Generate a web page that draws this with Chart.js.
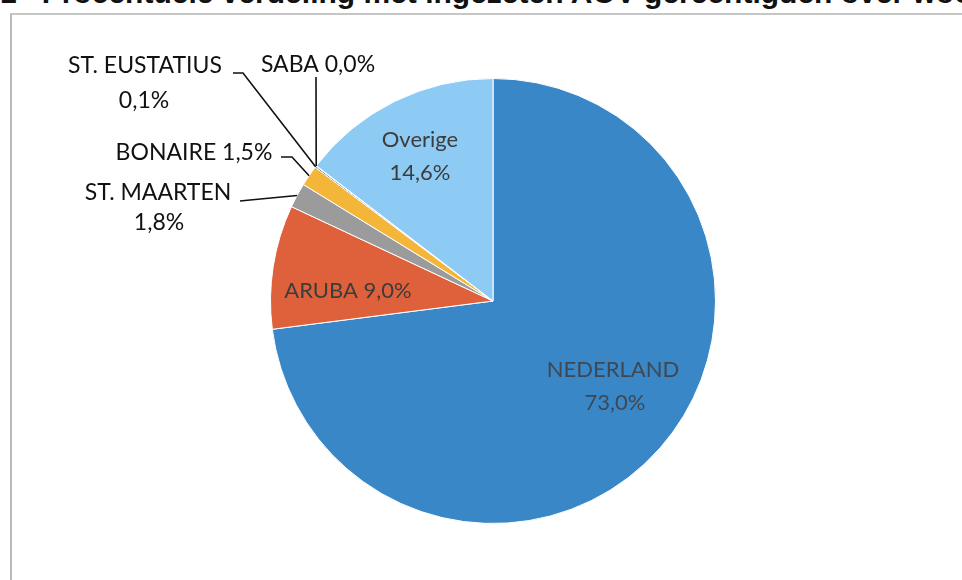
<!DOCTYPE html>
<html>
<head>
<meta charset="utf-8">
<script src="https://cdn.jsdelivr.net/npm/chart.js@4/dist/chart.umd.min.js"></script>
<style>
  html, body { margin: 0; padding: 0; background: #fff; }
  #wrap { position: relative; width: 962px; height: 580px; overflow: hidden; }
  #title { position: absolute; left: 0; top: -24px; white-space: nowrap;
    font: bold 30px "Liberation Sans", Arial, sans-serif; color: #111; }
  #frame { position: absolute; left: 10px; top: 13px; right: -5px; bottom: -5px;
    border-left: 2px solid #b9b9b9; border-top: 2px solid #c6c6c6; }
  #chart { position: absolute; left: 0; top: 0; }
</style>
</head>
<body>
<div id="wrap">
  <div id="title">1&nbsp;&nbsp;&nbsp;Procentuele verdeling met ingezeten AOV-gerechtigden over woonland</div>
  <div id="frame"></div>
  <canvas id="chart" width="962" height="580"></canvas>
</div>
<script>
// data, clockwise from 12 o'clock
let landen = ['NEDERLAND', 'ARUBA', 'ST. MAARTEN', 'BONAIRE', 'ST. EUSTATIUS', 'SABA', 'Overige']
let percentages = [73.0, 9.0, 1.8, 1.5, 0.1, 0.04, 14.6]
let percentlabels = ['73,0%', '9,0%', '1,8%', '1,5%', '0,1%', '0,0%', '14,6%']

let kleuren = ['#3a87c8', '#df613b', '#9b9b9b', '#f4b638', '#2f5597', '#70ad47', '#8ecbf4']

// label placement, offsets in px from pie centre (baselines)
// leader: [start, elbow] then a line to the slice edge
let labelpos = [
  { lines: [[120, 76, 'NEDERLAND'], [122, 109, '73,0%']], color: '#3f4852', size: 22 },
  { lines: [[-145, -3, 'ARUBA 9,0%']], color: '#3c3c3c', size: 22 },
  { lines: [[-335, -101, 'ST. MAARTEN'], [-334, -71, '1,8%']], color: '#111', size: 23,
    leader: [[-253, -100], [-243, -101]] },
  { lines: [[-299, -141, 'BONAIRE 1,5%']], color: '#111', size: 23,
    leader: [[-212, -144], [-201, -144]] },
  { lines: [[-348, -228, 'ST. EUSTATIUS'], [-349, -193, '0,1%']], color: '#111', size: 23,
    leader: [[-260, -228], [-250, -228]] },
  { lines: [[-175, -229, 'SABA 0,0%']], color: '#111', size: 23,
    leader: [[-177, -224], [-177, -222]] },
  { lines: [[-73, -154, 'Overige'], [-73, -121, '14,6%']], color: '#3c3c3c', size: 22 }
]

let labelplugin = {
  id: 'pielabels',
  afterDatasetsDraw(chart) {
    let ctx = chart.ctx
    let meta = chart.getDatasetMeta(0)
    ctx.save()
    ctx.textAlign = 'center'
    ctx.textBaseline = 'alphabetic'
    meta.data.forEach(function (arc, i) {
      let cx = arc.x, cy = arc.y
      let lp = labelpos[i]
      if (lp.leader) {
        let mid = (arc.startAngle + arc.endAngle) / 2
        let ex = cx + Math.cos(mid) * arc.outerRadius
        let ey = cy + Math.sin(mid) * arc.outerRadius
        ctx.strokeStyle = '#111'
        ctx.lineWidth = 1.6
        ctx.beginPath()
        ctx.moveTo(cx + lp.leader[0][0], cy + lp.leader[0][1])
        ctx.lineTo(cx + lp.leader[1][0], cy + lp.leader[1][1])
        ctx.lineTo(ex, ey)
        ctx.stroke()
      }
      ctx.font = lp.size + 'px Lato, "Noto Sans", sans-serif'
      ctx.fillStyle = lp.color
      lp.lines.forEach(function (l) {
        ctx.fillText(l[2], cx + l[0], cy + l[1])
      })
    })
    ctx.restore()
  }
}

let taart = new Chart(document.getElementById('chart'), {
  type: 'pie',
  data: {
    labels: landen,
    datasets: [{
      data: percentages,
      backgroundColor: kleuren,
      borderColor: '#ffffff',
      borderWidth: 1
    }]
  },
  options: {
    responsive: false,
    animation: false,
    layout: { padding: { top: 78, bottom: 56, left: 24, right: 0 } },
    plugins: {
      legend: { display: false },
      tooltip: { enabled: false }
    }
  },
  plugins: [labelplugin]
})
</script>
</body>
</html>
